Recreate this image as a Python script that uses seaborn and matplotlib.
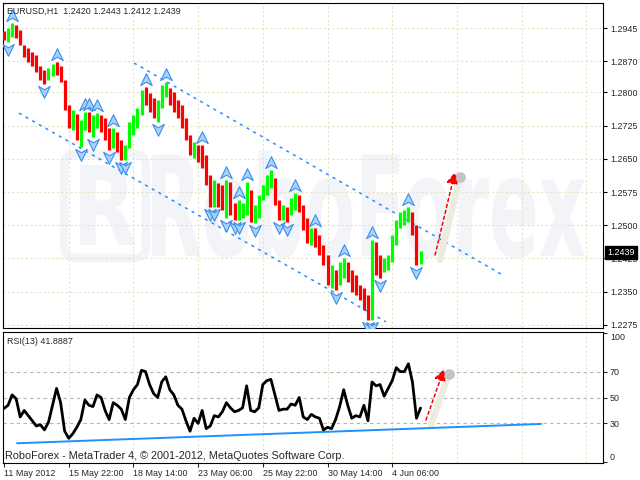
import numpy as np
import pandas as pd
import matplotlib
matplotlib.use("Agg")
import matplotlib.pyplot as plt
import seaborn as sns
from matplotlib.path import Path
from matplotlib.patches import PathPatch, FancyBboxPatch
from matplotlib.textpath import TextPath
from matplotlib.font_manager import FontProperties
from matplotlib.transforms import ScaledTranslation, Affine2D, IdentityTransform, blended_transform_factory

symbol = "EURUSD,H1"
bar_hours = 4
first_open = 1.2925
high = [1.2938, 1.2945, 1.2956, 1.2952, 1.2940, 1.2907, 1.2900, 1.2891, 1.2884, 1.2859,
        1.2850, 1.2855, 1.2864, 1.2868, 1.2859, 1.2828, 1.2771, 1.2760, 1.2751, 1.2737,
        1.2756, 1.2756, 1.2749, 1.2753, 1.2749, 1.2742, 1.2719, 1.2719, 1.2710, 1.2692,
        1.2681, 1.2733, 1.2749, 1.2765, 1.2805, 1.2812, 1.2798, 1.2787, 1.2783, 1.2816,
        1.2823, 1.2810, 1.2801, 1.2783, 1.2771, 1.2742, 1.2704, 1.2688, 1.2681, 1.2681,
        1.2658, 1.2613, 1.2602, 1.2595, 1.2591, 1.2602, 1.2598, 1.2550, 1.2557, 1.2550,
        1.2598, 1.2580, 1.2546, 1.2568, 1.2591, 1.2613, 1.2625, 1.2607, 1.2557, 1.2546,
        1.2541, 1.2561, 1.2573, 1.2568, 1.2546, 1.2516, 1.2494, 1.2494, 1.2478, 1.2455,
        1.2433, 1.2410, 1.2399, 1.2417, 1.2426, 1.2417, 1.2399, 1.2388, 1.2365, 1.2358,
        1.2343, 1.2467, 1.2462, 1.2433, 1.2426, 1.2433, 1.2478, 1.2512, 1.2530, 1.2534,
        1.2541, 1.2530, 1.2501, 1.2443]
low = [1.2918, 1.2913, 1.2925, 1.2922, 1.2907, 1.2880, 1.2868, 1.2859, 1.2846, 1.2828,
       1.2819, 1.2828, 1.2837, 1.2839, 1.2823, 1.2760, 1.2719, 1.2715, 1.2692, 1.2677,
       1.2715, 1.2710, 1.2699, 1.2719, 1.2710, 1.2692, 1.2670, 1.2674, 1.2665, 1.2647,
       1.2647, 1.2674, 1.2704, 1.2719, 1.2749, 1.2771, 1.2756, 1.2742, 1.2733, 1.2765,
       1.2789, 1.2771, 1.2756, 1.2742, 1.2719, 1.2692, 1.2658, 1.2652, 1.2643, 1.2629,
       1.2591, 1.2541, 1.2541, 1.2541, 1.2534, 1.2516, 1.2523, 1.2512, 1.2512, 1.2516,
       1.2523, 1.2507, 1.2505, 1.2516, 1.2557, 1.2568, 1.2584, 1.2546, 1.2512, 1.2512,
       1.2507, 1.2523, 1.2534, 1.2530, 1.2489, 1.2460, 1.2455, 1.2451, 1.2433, 1.2410,
       1.2365, 1.2358, 1.2354, 1.2365, 1.2381, 1.2372, 1.2349, 1.2343, 1.2331, 1.2309,
       1.2286, 1.2286, 1.2388, 1.2381, 1.2395, 1.2399, 1.2417, 1.2455, 1.2494, 1.2501,
       1.2507, 1.2478, 1.2410, 1.2412]
close = [1.2922, 1.2927, 1.2945, 1.2929, 1.2913, 1.2891, 1.2877, 1.2873, 1.2850, 1.2839,
         1.2828, 1.2846, 1.2859, 1.2855, 1.2828, 1.2771, 1.2737, 1.2742, 1.2715, 1.2726,
         1.2742, 1.2726, 1.2737, 1.2742, 1.2719, 1.2704, 1.2692, 1.2704, 1.2681, 1.2670,
         1.2681, 1.2719, 1.2737, 1.2756, 1.2794, 1.2787, 1.2771, 1.2760, 1.2765, 1.2805,
         1.2810, 1.2783, 1.2771, 1.2756, 1.2737, 1.2704, 1.2670, 1.2674, 1.2658, 1.2647,
         1.2602, 1.2557, 1.2580, 1.2568, 1.2557, 1.2580, 1.2557, 1.2530, 1.2534, 1.2539,
         1.2580, 1.2523, 1.2523, 1.2557, 1.2580, 1.2602, 1.2607, 1.2561, 1.2530, 1.2534,
         1.2523, 1.2546, 1.2557, 1.2546, 1.2501, 1.2478, 1.2485, 1.2467, 1.2444, 1.2422,
         1.2376, 1.2388, 1.2381, 1.2404, 1.2410, 1.2388, 1.2365, 1.2358, 1.2349, 1.2331,
         1.2309, 1.2455, 1.2417, 1.2410, 1.2417, 1.2426, 1.2467, 1.2501, 1.2523, 1.2528,
         1.2530, 1.2489, 1.2420, 1.2439]
rsi = [41.6, 44, 52, 49, 35, 40, 36, 32, 28, 29,
       25, 31, 44, 57, 46, 24, 18.5, 22, 27, 33,
       48, 44, 43, 52, 50, 40, 33, 46, 44, 41,
       33, 50, 56, 60, 71, 70, 60, 53, 50, 62,
       66, 56, 52, 44, 41, 32, 24, 34, 30, 40,
       26, 28, 36, 35, 39, 46, 42, 39, 40, 42,
       59, 40, 39, 42, 60, 63, 64, 52, 40, 41,
       41, 45, 44, 50, 35, 33, 37, 35, 34, 25,
       27, 26, 33, 43, 56, 44, 34, 36, 35, 44,
       32, 62, 59, 60, 51, 57, 63, 73, 70, 70,
       76, 62, 34, 41.8887]
rsi_period = 13

date_labels = ["11 May 2012", "15 May 22:00", "18 May 14:00", "23 May 06:00",
               "25 May 22:00", "30 May 14:00", "4 Jun 06:00"]
label_step = 64  # hours between time labels
price_ticks = [1.2945, 1.2870, 1.2800, 1.2725, 1.2650, 1.2575, 1.2500, 1.2425, 1.2350, 1.2275]
rsi_ticks = [100, 70, 50, 30, 0]
rsi_levels = [70, 50, 30]

# drawn objects (hour, value)
channel_upper = [(128.6, 1.2866), (494.6, 1.2386)]
channel_lower = [(14.8, 1.2753), (377.9, 1.2282)]
price_arrow = [(426.4, 1.2433), (446.1, 1.2620)]
rsi_support = [(12.9, 14.7), (531.2, 29.6)]
rsi_arrow = [(417.4, 32.6), (435.2, 72.0)]

df = pd.DataFrame({"high": high, "low": low, "close": close})
df["open"] = [first_open] + close[:-1]
df["hour"] = np.arange(len(df)) * bar_hours
df["color"] = np.where(df["close"] >= df["open"], "#00ff00", "#ff0000")
df["rsi"] = rsi

# fractals: bar high/low above/below both neighbours
df["up"] = df["high"] == df["high"].rolling(3, center=True).max()
df["dn"] = df["low"] == df["low"].rolling(3, center=True).min()

sns.set_style("white")
plt.rcParams["font.family"] = ["Liberation Sans", "DejaVu Sans"]

W, H = 640, 480
fig = plt.figure(figsize=(6.4, 4.8), dpi=100)
ax = fig.add_axes([3 / W, 1 - 328 / H, 600 / W, 325 / H])
ax2 = fig.add_axes([3 / W, 1 - 463 / H, 600 / W, 131 / H])

grid_c = "#e4e4c4"
wm_c = "#f2f4f8"
fs = 6.4
xmax = 592.5


def faint_text(a, text, box):
    tp = TextPath((0, 0), text, size=100, prop=FontProperties(family="DejaVu Sans", weight="bold"))
    bb = tp.get_extents()
    x0, y0, x1, y1 = box
    tr = (Affine2D().translate(-bb.x0, -bb.y0)
          .scale((x1 - x0) / bb.width, (y1 - y0) / bb.height)
          .translate(x0, H - y1))
    a.add_patch(PathPatch(tr.transform_path(tp), transform=IdentityTransform(),
                          fc=wm_c, ec="none", zorder=0))


# watermark
faint_text(ax, "RoboForex", (152, 150, 585, 258))
faint_text(ax, "R", (80, 165, 135, 245))
ax.add_patch(FancyBboxPatch((64, H - 258), 82, 104, boxstyle="round,pad=0,rounding_size=12",
                            transform=IdentityTransform(), fc="none", ec=wm_c, lw=6, zorder=0))

# grid
for h in range(label_step, int(xmax), label_step):
    ax.axvline(h, color=grid_c, lw=0.8, ls=(0, (2, 2)), zorder=1)
    ax2.axvline(h, color=grid_c, lw=0.8, ls=(0, (2, 2)), zorder=1)
for p in price_ticks:
    ax.axhline(p, color=grid_c, lw=0.8, ls=(0, (2, 2)), zorder=1)
for lv in rsi_levels:
    ax2.axhline(lv, color="#b4b4b4", lw=0.8, ls=(0, (3, 3)), zorder=1)

# channel
for line in (channel_upper, channel_lower):
    xs, ys = zip(*line)
    ax.plot(xs, ys, color="#2b8cff", lw=1.1, ls=(0, (2, 3)), zorder=2)

# fractals
up_mark = Path([(0, 1), (0.85, -0.75), (0, -0.25), (-0.85, -0.75), (0, 1)],
               [Path.MOVETO, Path.LINETO, Path.LINETO, Path.LINETO, Path.CLOSEPOLY])
dn_mark = Path([(0, -1), (0.85, 0.75), (0, 0.25), (-0.85, 0.75), (0, -1)],
               [Path.MOVETO, Path.LINETO, Path.LINETO, Path.LINETO, Path.CLOSEPOLY])
shift_up = ax.transData + ScaledTranslation(0, 0.07, fig.dpi_scale_trans)
shift_dn = ax.transData + ScaledTranslation(0, -0.07, fig.dpi_scale_trans)
sns.scatterplot(data=df[df["up"]], x="hour", y="high", ax=ax, marker=up_mark, s=95,
                color="#a9d2ff", edgecolor="#3a8ee8", linewidth=0.8, transform=shift_up, zorder=3)
sns.scatterplot(data=df[df["dn"]], x="hour", y="low", ax=ax, marker=dn_mark, s=95,
                color="#a9d2ff", edgecolor="#3a8ee8", linewidth=0.8, transform=shift_dn, zorder=3)

# bars
ax.vlines(df["hour"], df["low"], df["high"], colors=df["color"], lw=2.3, zorder=4)

# forecast arrow with its shadow
shadow = ax.transData + ScaledTranslation(0.05, -0.05, fig.dpi_scale_trans)
shadow2 = ax2.transData + ScaledTranslation(0.05, -0.05, fig.dpi_scale_trans)
for a, arr, sh in ((ax, price_arrow, shadow), (ax2, rsi_arrow, shadow2)):
    xs, ys = zip(*arr)
    a.plot(xs, ys, color="#ebebe0", lw=4.5, solid_capstyle="round", transform=sh, zorder=2)
    a.scatter([xs[1]], [ys[1]], s=45, color="#c4c4c4", transform=sh, zorder=2)
    a.annotate("", xy=arr[1], xytext=arr[0],
               arrowprops=dict(arrowstyle="-|>,head_length=0.7,head_width=0.35", color="red",
                               lw=1.1, ls=(0, (2, 2)), shrinkA=0, shrinkB=0), zorder=5)

# RSI
sns.lineplot(data=df, x="hour", y="rsi", ax=ax2, color="black", lw=2.0, zorder=4)
xs, ys = zip(*rsi_support)
ax2.plot(xs, ys, color="#1e90ff", lw=1.4, zorder=3)

# axes
ax.set_xlim(-1, xmax)
ax.set_ylim(1.22682, 1.30014)
ax2.set_xlim(-1, xmax)
ax2.set_ylim(-0.54, 100.54)

ax.set_xticks([])
ax.yaxis.tick_right()
ax.set_yticks(price_ticks)
ax.set_yticklabels([f"{p:.4f}" for p in price_ticks])
ax.tick_params(axis="y", right=True, left=False, length=3, width=0.8, pad=2,
               labelsize=fs, direction="out", color="black")

ax2.yaxis.tick_right()
ax2.set_yticks(rsi_ticks)
ax2.set_yticklabels([str(t) for t in rsi_ticks])
for lab in ax2.get_yticklabels():
    if lab.get_text() == "100":
        lab.set_va("top")
    elif lab.get_text() == "0":
        lab.set_va("bottom")
ax2.tick_params(axis="y", right=True, left=False, length=3, width=0.8, pad=2,
                labelsize=fs, direction="out")
ax2.set_xticks(np.arange(len(date_labels)) * label_step)
ax2.set_xticklabels(date_labels, ha="left")
ax2.tick_params(axis="x", bottom=True, length=3, width=0.8, pad=1.5, labelsize=fs, direction="out")
ax2.set_xlabel("")
ax2.set_ylabel("")
ax.set_xlabel("")
ax.set_ylabel("")

for a in (ax, ax2):
    for sp in a.spines.values():
        sp.set_color("black")
        sp.set_linewidth(0.8)

last = df.iloc[-1]
ax.annotate(f"{symbol}  {last['open']:.4f} {last['high']:.4f} {last['low']:.4f} {last['close']:.4f}",
            xy=(0, 1), xycoords="axes fraction", xytext=(4, -4), textcoords="offset pixels",
            va="top", ha="left", fontsize=fs, zorder=6)
ax.annotate(f"{last['close']:.4f}", xy=(1, last["close"]),
            xycoords=blended_transform_factory(ax.transAxes, ax.transData),
            xytext=(4, 0), textcoords="offset pixels", va="center", ha="left",
            fontsize=fs, color="white", annotation_clip=False, zorder=6,
            bbox=dict(boxstyle="square,pad=0.25", fc="black", ec="black"))
ax2.annotate(f"RSI({rsi_period}) {rsi[-1]:.4f}", xy=(0, 1), xycoords="axes fraction",
             xytext=(4, -5), textcoords="offset pixels", va="top", ha="left", fontsize=fs)
ax2.annotate("RoboForex - MetaTrader 4, © 2001-2012, MetaQuotes Software Corp.",
             xy=(0, 0), xycoords="axes fraction", xytext=(2, 2), textcoords="offset pixels",
             va="bottom", ha="left", fontsize=7.8)

fig.savefig("out.png", dpi=100)
